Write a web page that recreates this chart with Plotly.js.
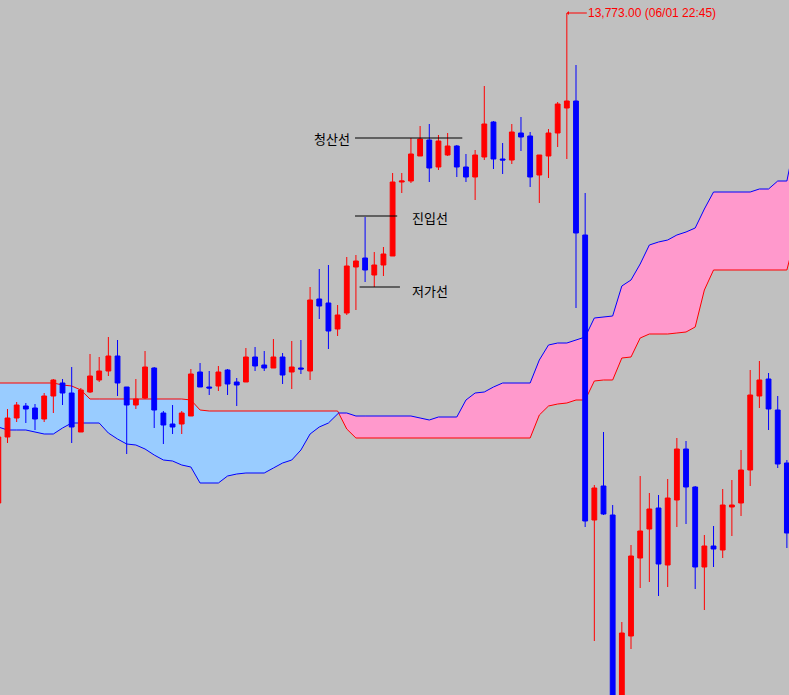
<!DOCTYPE html>
<html>
<head>
<meta charset="utf-8">
<script src="https://cdn.plot.ly/plotly-3.0.1.min.js"></script>
<style>
html,body{margin:0;padding:0;background:#c0c0c0;overflow:hidden;}
#chart{width:789px;height:695px;}
</style>
</head>
<body>
<div id="chart"></div>
<script>
// ---- candle data (bar index, OHLC) ----
const candleIdx = Array.from({length: 87}, (_, k) => k - 1);

const openP = [13650.50,
 13667.00,13671.75,13674.75,13674.25,13671.50,13677.25,13680.50,13678.00,13668.25,13678.25,
 13681.25,13683.50,13687.25,13679.50,13675.00,13676.75,13684.25,13673.00,13670.25,13670.25,
 13672.25,13683.25,13679.50,13679.75,13683.75,13680.75,13680.75,13687.00,13685.00,13684.25,
 13687.00,13683.25,13684.25,13683.50,13701.50,13700.50,13694.00,13698.00,13709.50,13711.75,
 13707.50,13710.00,13712.25,13730.75,13731.00,13737.25,13741.25,13734.50,13737.50,13739.75,
 13734.50,13732.00,13737.00,13745.75,13736.50,13736.25,13743.00,13742.25,13732.50,13737.25,
 13743.00,13749.25,13751.00,13717.50,13646.25,13654.75,13647.50,13598.25,13617.25,13636.75,
 13644.00,13649.25,13635.00,13651.25,13664.00,13654.50,13634.50,13639.75,13638.75,13649.50,
 13650.50,13658.75,13677.25,13681.50,13673.75,13660.50];

const highP = [13667.50,
 13674.00,13675.75,13675.50,13675.25,13678.00,13681.50,13681.50,13684.50,13679.25,13687.75,
 13687.00,13692.00,13691.25,13679.50,13681.50,13688.50,13684.50,13673.50,13675.00,13673.50,
 13684.00,13685.50,13683.50,13684.75,13684.00,13681.75,13689.25,13689.50,13688.50,13691.50,
 13688.00,13691.00,13691.25,13704.50,13709.00,13710.00,13700.00,13712.00,13712.50,13722.00,
 13713.25,13714.50,13733.00,13733.00,13741.75,13744.75,13745.25,13742.50,13743.00,13740.00,
 13737.75,13738.75,13754.75,13746.00,13740.50,13745.25,13747.00,13743.25,13737.50,13744.00,
 13750.75,13773.00,13760.00,13728.00,13655.00,13668.25,13650.00,13620.75,13640.00,13657.25,
 13653.00,13652.50,13656.50,13666.75,13666.00,13654.75,13642.50,13644.75,13654.00,13656.25,
 13663.75,13683.75,13686.00,13683.00,13677.25,13661.25];

const lowP = [13650.00,
 13665.50,13670.75,13670.50,13668.75,13670.75,13673.00,13675.00,13665.50,13668.25,13678.00,
 13680.75,13682.25,13677.25,13662.75,13674.00,13676.50,13669.25,13665.25,13667.75,13667.75,
 13672.25,13679.50,13677.50,13678.50,13677.50,13674.75,13680.75,13683.50,13683.50,13684.25,
 13680.25,13679.00,13682.75,13681.25,13696.50,13689.00,13692.25,13697.50,13698.75,13705.75,
 13704.50,13707.25,13712.25,13728.00,13730.50,13737.25,13730.75,13733.75,13737.25,13732.00,
 13730.75,13726.25,13736.25,13734.00,13732.75,13735.25,13738.50,13729.50,13725.50,13731.75,
 13739.50,13736.50,13699.25,13644.50,13616.00,13647.50,13595.00,13596.25,13614.00,13629.25,
 13630.75,13627.25,13629.50,13644.50,13645.25,13629.00,13623.75,13634.50,13636.75,13642.25,
 13647.25,13654.75,13674.25,13668.75,13659.25,13639.25];

const closeP = [13667.00,
 13671.75,13675.00,13674.00,13671.50,13677.25,13681.25,13678.00,13669.50,13678.75,13682.25,
 13683.50,13687.25,13680.50,13675.00,13676.50,13684.50,13673.75,13670.00,13669.50,13673.00,
 13682.75,13679.50,13679.25,13683.25,13680.25,13680.00,13687.00,13684.75,13684.25,13687.00,
 13682.50,13684.50,13684.00,13701.25,13699.75,13693.50,13697.50,13709.75,13711.00,13708.75,
 13710.00,13712.75,13730.75,13731.00,13737.75,13741.50,13734.25,13741.00,13739.75,13734.50,
 13732.00,13737.50,13745.25,13736.50,13736.25,13743.25,13742.00,13732.00,13737.50,13743.00,
 13750.25,13751.00,13718.00,13646.00,13654.25,13647.75,13597.50,13618.00,13637.25,13643.50,
 13649.00,13635.25,13651.75,13664.00,13654.50,13634.50,13639.75,13639.00,13650.00,13650.00,
 13658.75,13677.50,13681.25,13674.00,13660.25,13643.00];

// ---- Ichimoku cloud (leading spans, shifted) ----
const cloudIdx = Array.from({length: 88}, (_, k) => k - 1);

const spanA = [
 13680.50,13680.50,13680.50,13680.50,13680.50,13680.50,13680.50,13680.00,13679.75,13678.75,
 13676.50,13676.50,13676.50,13676.50,13676.50,13676.50,13676.50,13676.50,13676.50,13676.50,
 13676.50,13676.25,13673.75,13673.50,13673.50,13673.50,13673.50,13673.50,13673.50,13673.50,
 13673.50,13673.50,13673.50,13673.50,13673.50,13673.50,13673.50,13673.50,13669.00,13666.75,
 13666.75,13666.75,13666.75,13666.75,13666.75,13666.75,13666.75,13666.75,13666.75,13666.75,
 13666.75,13666.75,13666.75,13666.75,13666.75,13666.75,13666.75,13666.75,13666.75,13672.50,
 13674.75,13675.25,13675.50,13676.25,13676.25,13681.00,13681.25,13681.25,13686.75,13687.00,
 13691.75,13692.75,13692.75,13692.75,13693.00,13693.25,13694.50,13703.75,13708.75,13708.75,
 13708.75,13708.75,13708.75,13708.75,13708.75,13708.75,13708.75,13717.75];

const spanB = [
 13669.50,13668.75,13668.75,13668.75,13668.25,13667.75,13667.75,13669.25,13670.50,13670.50,
 13670.50,13670.50,13668.00,13666.50,13665.25,13665.00,13664.00,13662.50,13661.25,13661.00,
 13660.00,13659.50,13655.50,13655.50,13655.50,13657.25,13657.75,13658.00,13658.00,13658.00,
 13659.25,13660.50,13661.25,13663.75,13667.75,13669.50,13670.50,13673.00,13673.00,13672.25,
 13672.25,13672.25,13672.25,13672.25,13672.25,13672.25,13671.75,13671.25,13672.00,13672.00,
 13672.00,13676.25,13678.00,13678.25,13679.50,13680.50,13680.50,13680.50,13680.50,13686.25,
 13690.00,13690.50,13690.50,13691.25,13692.00,13696.75,13697.00,13697.25,13704.75,13706.25,
 13710.25,13715.00,13715.75,13716.25,13717.50,13718.25,13719.25,13724.00,13728.25,13728.25,
 13728.25,13728.25,13728.25,13729.00,13729.00,13731.00,13731.00,13742.25];

// ---- marker lines / labels ----
const markLabels = ['청산선', '진입선', '저가선'];
const markLevels = [13741.75, 13722.25, 13704.50];
const peakTime = '06/01 22:45';

// ---- build cloud with crossing points ----
const dx = [], dA = [], dB = [];
for (let k = 0; k < cloudIdx.length; k++) {
  if (k > 0) {
    const d0 = spanA[k-1] - spanB[k-1], d1 = spanA[k] - spanB[k];
    if (d0 * d1 < 0) {
      const t = d0 / (d0 - d1);
      const xc = cloudIdx[k-1] + t * (cloudIdx[k] - cloudIdx[k-1]);
      const yc = spanA[k-1] + t * (spanA[k] - spanA[k-1]);
      dx.push(xc); dA.push(yc); dB.push(yc);
    }
  }
  dx.push(cloudIdx[k]); dA.push(spanA[k]); dB.push(spanB[k]);
}
const lo = dA.map((a, k) => Math.min(a, dB[k]));

const base = {mode: 'lines', hoverinfo: 'skip', showlegend: false, xaxis: 'x', yaxis: 'y'};
const traces = [
  Object.assign({}, base, {x: dx, y: lo, line: {width: 0, color: 'rgba(0,0,0,0)'}}),
  Object.assign({}, base, {x: dx, y: dA, fill: 'tonexty', fillcolor: '#99ccff', line: {width: 0, color: 'rgba(0,0,0,0)'}}),
  Object.assign({}, base, {x: dx, y: lo, line: {width: 0, color: 'rgba(0,0,0,0)'}}),
  Object.assign({}, base, {x: dx, y: dB, fill: 'tonexty', fillcolor: '#ff99cc', line: {width: 0, color: 'rgba(0,0,0,0)'}}),
  Object.assign({}, base, {x: dx, y: dA, line: {width: 1, color: '#ff0000'}}),
  Object.assign({}, base, {x: dx, y: dB, line: {width: 1, color: '#0000ff'}}),
  {
    type: 'candlestick', x: candleIdx, open: openP, high: highP, low: lowP, close: closeP,
    xaxis: 'x2', yaxis: 'y2', hoverinfo: 'skip', showlegend: false, whiskerwidth: 0,
    increasing: {line: {color: '#ff0000', width: 1}, fillcolor: '#ff0000'},
    decreasing: {line: {color: '#0000ff', width: 1}, fillcolor: '#0000ff'}
  }
];

const xr = [-0.818, 85.23];
const yr = [13602.5, 13776.25];

// peak annotation from data
let pk = 0;
highP.forEach((h, k) => { if (h > highP[pk]) pk = k; });
const peakText = highP[pk].toLocaleString('en-US', {minimumFractionDigits: 2, maximumFractionDigits: 2}) + ' (' + peakTime + ')';

const lineSpans = [[37.9, 49.6], [37.9, 42.5], [38.4, 42.8]];
const shapes = markLevels.map((lv, k) => ({
  type: 'line', xref: 'x', yref: 'y', x0: lineSpans[k][0], x1: lineSpans[k][1], y0: lv, y1: lv,
  line: {color: '#000000', width: 1}, layer: 'above'
}));

const krFont = {family: 'Noto Sans CJK KR, sans-serif', size: 13, color: '#000000'};
const annotations = [
  {x: 37.55, y: markLevels[0], xref: 'x', yref: 'y', text: markLabels[0], showarrow: false, xanchor: 'right', yanchor: 'middle', font: krFont},
  {x: 43.9, y: markLevels[1] - 0.25, xref: 'x', yref: 'y', text: markLabels[1], showarrow: false, xanchor: 'left', yanchor: 'middle', font: krFont},
  {x: 43.9, y: markLevels[2] - 0.75, xref: 'x', yref: 'y', text: markLabels[2], showarrow: false, xanchor: 'left', yanchor: 'middle', font: krFont},
  {x: candleIdx[pk], y: highP[pk], xref: 'x', yref: 'y', text: peakText, showarrow: true,
   ax: 20, ay: 0, xanchor: 'left', yanchor: 'middle', arrowcolor: '#ff0000', arrowwidth: 1,
   arrowhead: 1, arrowsize: 0.7, standoff: 0, borderpad: 0,
   font: {family: 'Liberation Sans, Arial, sans-serif', size: 12, color: '#ff0000'}}
];

const layout = {
  width: 789, height: 695,
  margin: {l: 0, r: 0, t: 0, b: 0, pad: 0},
  paper_bgcolor: '#c0c0c0', plot_bgcolor: '#c0c0c0',
  showlegend: false, hovermode: false,
  boxgap: 0.25,
  xaxis: {range: xr, visible: false, fixedrange: true, anchor: 'y'},
  yaxis: {range: yr, visible: false, fixedrange: true, anchor: 'x'},
  xaxis2: {range: xr, visible: false, fixedrange: true, overlaying: 'x', anchor: 'y2', rangeslider: {visible: false}},
  yaxis2: {range: yr, visible: false, fixedrange: true, overlaying: 'y', anchor: 'x2'},
  shapes: shapes,
  annotations: annotations
};

Plotly.newPlot('chart', traces, layout, {displayModeBar: false, staticPlot: true});
</script>
</body>
</html>
